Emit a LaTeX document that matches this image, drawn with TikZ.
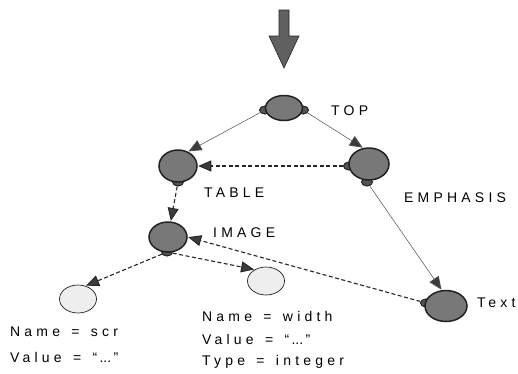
\documentclass[tikz,border=0pt]{standalone}
\usepackage{fontspec}
\setmainfont{Liberation Sans}
\newfontfamily\lblfont[LetterSpace=30,WordSpace=1.4]{Liberation Sans}
\newfontfamily\plainfont{Liberation Sans}
\usetikzlibrary{arrows.meta,shapes.geometric}
\definecolor{blobfill}{HTML}{787878}
\definecolor{blobline}{HTML}{222222}
\definecolor{lightfill}{HTML}{EEEEEE}
\newcommand{\dq}{{\plainfont “\,...\,”}}
\tikzset{
  blob/.style={ellipse,draw=blobline,fill=blobfill,line width=1.5pt,inner sep=0pt},
  bump/.style={ellipse,draw=blobline,fill=blobfill!70!black,line width=1pt,inner sep=0pt,minimum width=11pt,minimum height=8pt},
  lightblob/.style={ellipse,draw=blobline,fill=lightfill,line width=0.7pt,inner sep=0pt},
  lbl/.style={font=\lblfont\fontsize{14pt}{16pt}\selectfont,text=black,inner sep=0pt,anchor=west},
  tip/.style={-{Triangle[length=13pt,width=11pt,fill=blobfill!50!black,line width=0.9pt]}},
  solidedge/.style={tip,draw=black!70,line width=0.5pt,shorten >=0.5pt},
  dashedge/.style={tip,draw=black!85,line width=1.1pt,dash pattern=on 4pt off 2.5pt,shorten >=0.5pt},
}
\begin{document}
\begin{tikzpicture}[x=1pt,y=-1pt]
\useasboundingbox (0,0) rectangle (518,373);
% big arrow
\fill[blobfill!80!black,draw=blobline,line width=0.6pt]
  (279,10) -- (289,10) -- (289,36) -- (299,36) -- (284,68) -- (269,36) -- (279,36) -- cycle;
% bumps first (behind)
\node[bump] (topL) at (265,110) {};
\node[bump] (topR) at (303,110) {};
\node[bump] (tabB) at (178,182) {};
\node[bump] (emL) at (349,166) {};
\node[bump] (emB) at (367,182) {};
\node[bump] (imgB) at (167,252) {};
\node[bump] (txtL) at (426,303) {};
% main blobs
\node[blob,minimum width=37pt,minimum height=25pt] (top) at (284,108) {};
\node[blob,minimum width=38pt,minimum height=32pt] (table) at (178,166) {};
\node[blob,minimum width=40pt,minimum height=32pt] (emph) at (369,164) {};
\node[blob,minimum width=38pt,minimum height=30pt] (image) at (168,237) {};
\node[blob,minimum width=42pt,minimum height=31pt] (text) at (446,306) {};
\node[lightblob,minimum width=37pt,minimum height=28pt] (scr) at (78,299) {};
\node[lightblob,minimum width=37pt,minimum height=28pt] (width) at (266,281) {};
% labels
\node[lbl] (ltop) at (331,111) {TOP};
\node[lbl] (ltable) at (204,193) {TABLE};
\node[lbl] (lemph) at (404,198) {EMPHASIS};
\node[lbl] (limage) at (213,233) {IMAGE};
\node[lbl] (ltext) at (477,303) {Text};
\node[lbl] (ls1) at (10,332) {Name = scr};
\node[lbl] (ls2) at (10,357) {Value = \dq};
\node[lbl] (lw1) at (202,316) {Name = width};
\node[lbl] (lw2) at (202,339) {Value = \dq};
\node[lbl] (lw3) at (202,362) {Type = integer};
% edges
\draw[solidedge] (topL) -- (table.55);
\draw[solidedge] (topR) -- (emph.110);
\draw[dashedge] (emL) -- (table.east);
\draw[dashedge] (tabB) -- (image.80);
\draw[solidedge] (emB) -- (text.105);
\draw[dashedge] (imgB) -- (scr.60);
\draw[dashedge] (imgB) -- (width.135);
\draw[dashedge] (txtL) -- (image.east);
\end{tikzpicture}
\end{document}
